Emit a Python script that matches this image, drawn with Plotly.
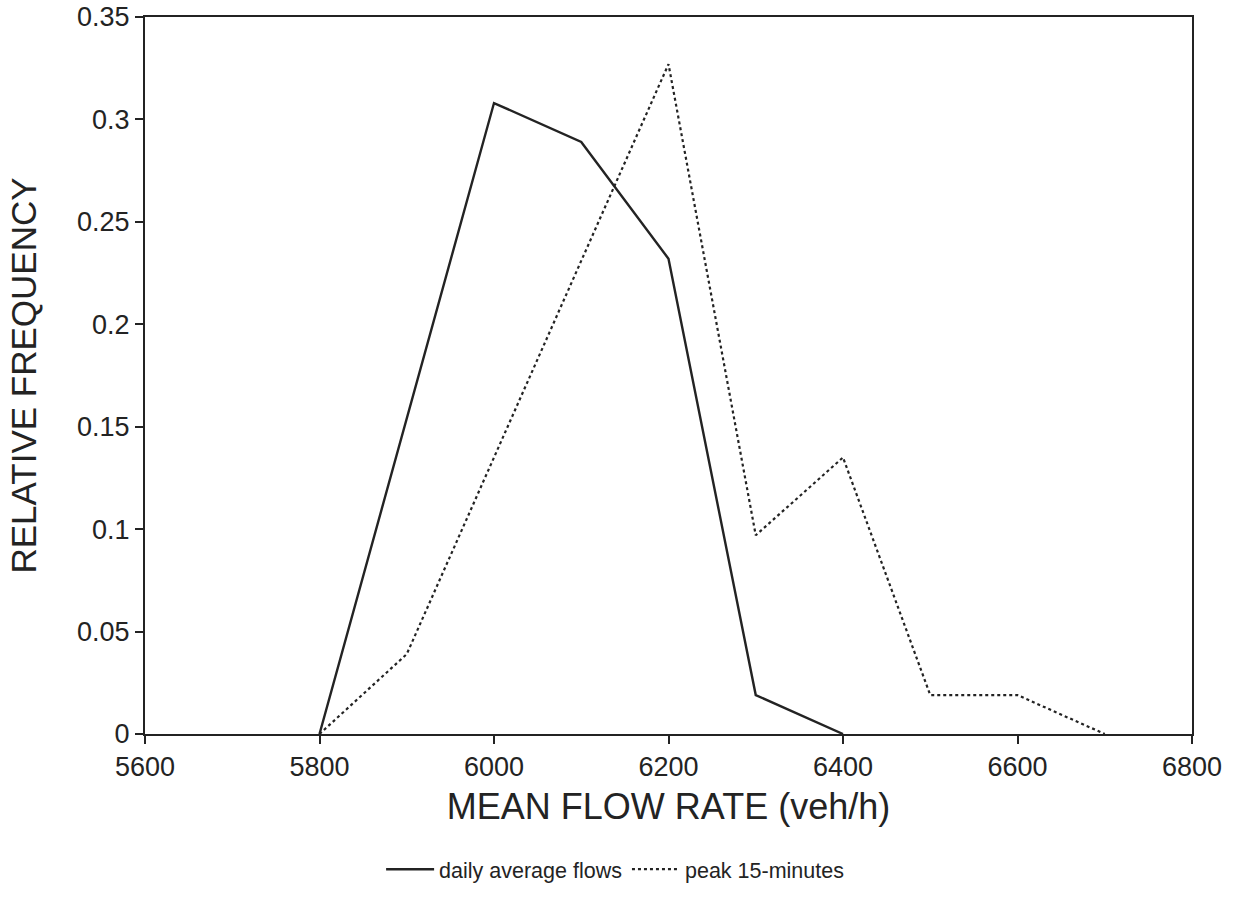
import plotly.graph_objects as go

# Data
daily_x = [5800, 6000, 6100, 6200, 6300, 6400]
daily_y = [0.0, 0.308, 0.289, 0.232, 0.019, 0.0]

peak_x = [5800, 5900, 6000, 6100, 6200, 6300, 6400, 6500, 6600, 6700]
peak_y = [0.0, 0.039, 0.135, 0.231, 0.327, 0.097, 0.135, 0.019, 0.019, 0.0]

x_ticks = [5600, 5800, 6000, 6200, 6400, 6600, 6800]
y_ticks = [0, 0.05, 0.1, 0.15, 0.2, 0.25, 0.3, 0.35]
y_labels = ["0", "0.05", "0.1", "0.15", "0.2", "0.25", "0.3", "0.35"]

FONT = "Liberation Sans, Arial, sans-serif"
INK = "#232323"

fig = go.Figure()
fig.add_trace(go.Scatter(x=daily_x, y=daily_y, mode="lines", name="daily average flows",
                         line=dict(color=INK, width=2.4, dash="solid")))
fig.add_trace(go.Scatter(x=peak_x, y=peak_y, mode="lines", name="peak 15-minutes",
                         line=dict(color=INK, width=2.2, dash="dot")))

fig.update_layout(
    width=1243, height=913,
    margin=dict(l=145, r=51, t=17, b=179, autoexpand=False),
    paper_bgcolor="white", plot_bgcolor="white",
    font=dict(family=FONT, color=INK, size=20),
    showlegend=True,
    legend=dict(orientation="h", x=0.449, xanchor="center", y=-0.16, yanchor="top",
                font=dict(size=21.5, family=FONT, color=INK), itemwidth=48,
                tracegroupgap=0, bgcolor="rgba(0,0,0,0)"),
    xaxis=dict(range=[5600, 6800], tickvals=x_ticks, ticktext=[str(v) for v in x_ticks],
               ticks="outside", ticklen=8, tickwidth=1.5, tickcolor=INK,
               showline=True, linecolor=INK, linewidth=2, mirror=True,
               showgrid=False, zeroline=False, automargin=False,
               tickfont=dict(size=27, family=FONT, color=INK),
               title=dict(text="MEAN FLOW RATE (veh/h)", font=dict(size=36, family=FONT, color=INK),
                          standoff=12)),
    yaxis=dict(range=[0, 0.35], tickvals=y_ticks, ticktext=y_labels,
               ticks="outside", ticklen=8, tickwidth=1.5, tickcolor=INK,
               showline=True, linecolor=INK, linewidth=2, mirror=True,
               showgrid=False, zeroline=False, automargin=False,
               tickfont=dict(size=27, family=FONT, color=INK),
               title=dict(text="RELATIVE FREQUENCY", font=dict(size=35, family=FONT, color=INK),
                          standoff=30)),
)

fig.write_html("out.html")
